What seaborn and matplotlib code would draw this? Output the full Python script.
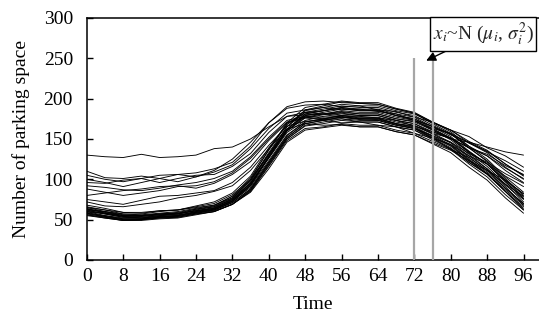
import numpy as np
import pandas as pd
import matplotlib
matplotlib.use("Agg")
import matplotlib.pyplot as plt
import seaborn as sns

# time grid (every 4 steps of the 96-step day)
time = [0, 4, 8, 12, 16, 20, 24, 28, 32, 36, 40, 44, 48, 52, 56, 60, 64, 68, 72, 76, 80, 84, 88, 92, 96]

# parking space curves
curves = [
    [130, 128, 127, 131, 127, 128, 130, 138, 140, 150, 165, 178, 180, 181, 179, 178, 176, 173, 166, 159, 150, 146, 140, 134, 130],
    [110, 102, 101, 104, 101, 106, 108, 113, 121, 141, 170, 190, 196, 197, 195, 194, 193, 187, 182, 171, 161, 147, 136, 119, 105],
    [105, 100, 97, 101, 105, 106, 103, 109, 118, 138, 163, 182, 186, 189, 186, 187, 184, 181, 173, 166, 155, 146, 134, 123, 110],
    [100, 96, 91, 96, 101, 97, 103, 111, 125, 146, 170, 188, 192, 193, 190, 191, 186, 184, 177, 171, 161, 153, 139, 129, 115],
    [96, 95, 99, 101, 96, 101, 105, 106, 116, 132, 158, 178, 183, 181, 182, 179, 179, 173, 169, 159, 151, 139, 129, 114, 101],
    [92, 90, 87, 86, 89, 93, 96, 101, 110, 128, 152, 173, 178, 177, 178, 175, 175, 169, 166, 157, 151, 139, 131, 117, 106],
    [88, 84, 80, 83, 86, 91, 92, 97, 108, 126, 150, 171, 177, 175, 177, 174, 173, 167, 163, 154, 146, 132, 121, 107, 95],
    [80, 83, 86, 88, 91, 92, 89, 95, 106, 122, 148, 170, 176, 174, 175, 171, 171, 165, 161, 151, 143, 129, 119, 104, 91],
    [75, 72, 69, 74, 79, 80, 83, 86, 96, 115, 142, 166, 172, 173, 170, 171, 167, 165, 157, 151, 137, 127, 111, 99, 82],
    [72, 67, 66, 69, 72, 77, 80, 85, 92, 111, 138, 162, 169, 167, 168, 165, 165, 159, 155, 145, 136, 123, 111, 94, 79],
    [68, 64, 59, 58, 61, 62, 66, 70, 81, 100, 131, 160, 176, 180, 183, 181, 181, 175, 171, 161, 151, 134, 119, 99, 82],
    [66, 62, 57, 56, 58, 60, 64, 68, 77, 95, 126, 158, 173, 178, 181, 179, 179, 173, 169, 157, 146, 129, 113, 93, 75],
    [65, 60, 55, 55, 57, 58, 63, 66, 75, 92, 123, 155, 171, 175, 179, 176, 176, 169, 165, 154, 143, 125, 109, 89, 70],
    [64, 58, 54, 54, 56, 57, 61, 64, 73, 90, 121, 152, 169, 173, 177, 175, 174, 168, 163, 151, 139, 121, 106, 85, 66],
    [63, 60, 56, 55, 57, 58, 61, 65, 76, 98, 133, 165, 183, 187, 191, 189, 189, 183, 179, 167, 156, 139, 123, 101, 80],
    [62, 57, 53, 53, 55, 56, 59, 62, 71, 88, 119, 150, 166, 169, 173, 171, 171, 165, 161, 149, 138, 121, 107, 87, 68],
    [61, 58, 54, 52, 54, 55, 59, 63, 73, 94, 129, 162, 181, 185, 189, 187, 187, 181, 177, 165, 153, 135, 119, 97, 76],
    [60, 55, 51, 51, 53, 54, 58, 61, 69, 85, 116, 148, 163, 165, 169, 167, 167, 161, 157, 147, 137, 119, 103, 81, 62],
    [60, 57, 53, 52, 55, 57, 62, 66, 77, 100, 137, 170, 189, 193, 197, 195, 195, 188, 183, 171, 159, 141, 125, 103, 84],
    [59, 54, 50, 50, 52, 53, 57, 60, 69, 86, 117, 150, 167, 171, 175, 173, 173, 167, 163, 152, 141, 123, 107, 85, 64],
    [58, 55, 52, 52, 54, 55, 60, 64, 74, 96, 131, 165, 186, 191, 196, 194, 193, 187, 182, 169, 157, 139, 122, 99, 78],
    [58, 53, 49, 50, 53, 55, 59, 62, 71, 88, 121, 154, 171, 175, 179, 177, 177, 171, 167, 156, 145, 127, 111, 89, 70],
    [57, 54, 51, 51, 53, 54, 58, 62, 72, 92, 127, 160, 179, 183, 187, 185, 185, 179, 175, 163, 151, 133, 116, 94, 72],
    [56, 52, 49, 50, 52, 53, 57, 60, 69, 84, 113, 146, 161, 164, 167, 165, 165, 159, 155, 144, 133, 115, 99, 77, 58],
    [56, 53, 50, 50, 53, 55, 60, 63, 73, 93, 128, 162, 181, 185, 189, 186, 186, 179, 173, 161, 149, 131, 113, 91, 68],
    [55, 52, 49, 49, 51, 52, 56, 60, 69, 87, 119, 152, 169, 173, 177, 175, 175, 169, 164, 153, 142, 124, 107, 85, 62],
    [62, 60, 57, 57, 60, 62, 67, 72, 83, 104, 139, 168, 183, 185, 188, 185, 185, 179, 175, 165, 156, 141, 129, 111, 96],
    [60, 58, 55, 55, 57, 59, 63, 67, 79, 102, 136, 168, 185, 189, 193, 191, 191, 185, 181, 170, 161, 145, 133, 115, 100],
    [65, 62, 59, 59, 61, 62, 65, 68, 79, 98, 131, 162, 179, 181, 184, 181, 181, 175, 172, 163, 157, 145, 135, 119, 104],
    [63, 59, 55, 54, 56, 57, 61, 64, 75, 95, 127, 160, 177, 181, 185, 183, 183, 177, 173, 162, 151, 134, 119, 97, 76],
]

x_ticks = [0, 8, 16, 24, 32, 40, 48, 56, 64, 72, 80, 88, 96]
y_ticks = [0, 50, 100, 150, 200, 250, 300]
marked_times = [72, 76]

# long-format table for seaborn
rows = []
for i, c in enumerate(curves):
    for t, v in zip(time, c):
        rows.append({"curve": i, "Time": t, "value": v})
df = pd.DataFrame(rows)

sns.set_theme(style="ticks")
plt.rcParams['font.family'] = ['Liberation Serif', 'DejaVu Serif']
plt.rcParams['mathtext.fontset'] = 'stix'

fig = plt.figure(figsize=(5.39, 3.20), dpi=100)
ax = fig.add_axes([0.161, 0.1875, 0.839, 0.7565])

sns.lineplot(data=df, x="Time", y="value", units="curve", estimator=None,
             color="black", linewidth=0.65, ax=ax, legend=False)

ax.vlines(marked_times, 0, 250, color="#a6a6a6", linewidth=1.6, zorder=3)

ax.annotate(r"$x_i$~N ($\mu_i$, $\sigma_i^2$)", xy=(74.6, 247), xytext=(76.0, 280),
            ha="left", va="center", fontsize=14,
            bbox=dict(boxstyle="square,pad=0.15", fc="white", ec="black", lw=1.0),
            arrowprops=dict(arrowstyle="-|>", color="black", lw=1.0,
                            shrinkA=0, shrinkB=0, relpos=(0.2, 0.0)))

ax.set_xlim(0, 99.4)
ax.set_ylim(0, 300)
ax.set_xticks(x_ticks)
ax.set_yticks(y_ticks)
ax.tick_params(direction="in", length=4, width=1, labelsize=14, colors="black")
ax.tick_params(axis="x", pad=6)
ax.tick_params(axis="y", pad=10)
ax.set_xlabel("Time", fontsize=14, color="black", labelpad=8)
ax.set_ylabel("Number of parking space", fontsize=14, color="black", labelpad=10)
ax.spines["right"].set_visible(False)
for s in ["left", "bottom", "top"]:
    ax.spines[s].set_linewidth(1.1)
    ax.spines[s].set_color("black")

fig.savefig("out.png", dpi=100)
